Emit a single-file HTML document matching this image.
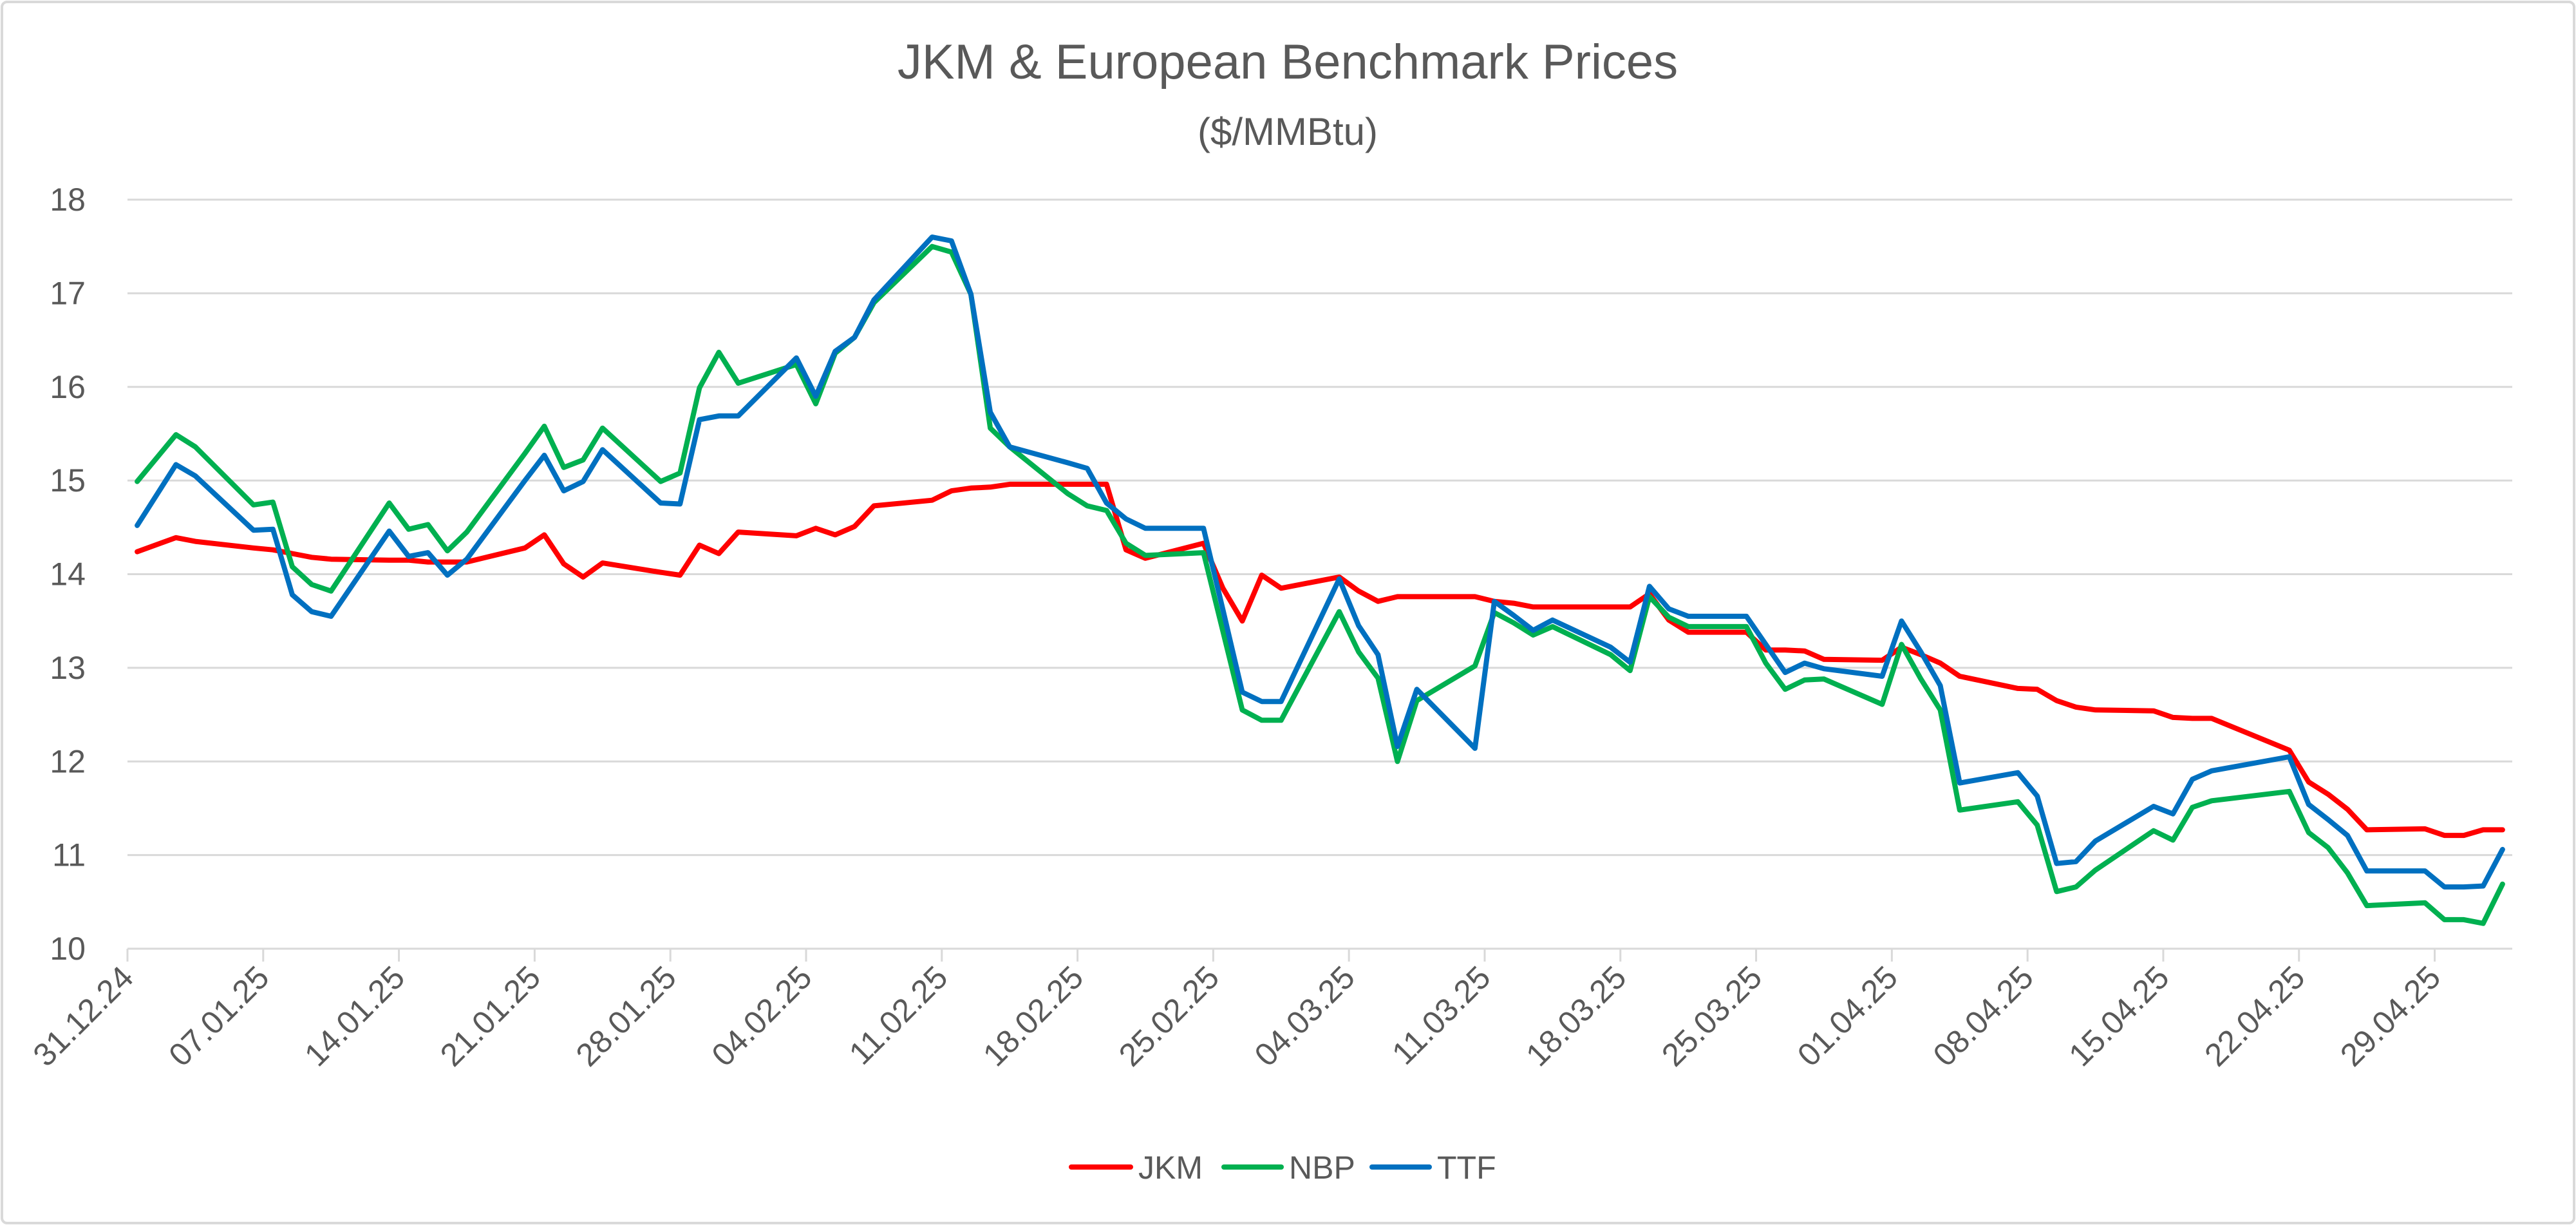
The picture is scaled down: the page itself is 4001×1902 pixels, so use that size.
<!DOCTYPE html>
<html><head><meta charset="utf-8">
<style>
html,body{margin:0;padding:0;background:#fff;}
svg{display:block;font-family:"Liberation Sans",sans-serif;}
</style></head>
<body>
<svg id="chart" width="4001" height="1902" viewBox="0 0 4001 1902" xmlns="http://www.w3.org/2000/svg">
<rect x="3" y="3" width="3995" height="1896" rx="8" fill="#fff" stroke="#d9d9d9" stroke-width="4"/>
<text x="2000" y="122" text-anchor="middle" font-size="76" fill="#595959">JKM &amp; European Benchmark Prices</text>
<text x="2000" y="225" text-anchor="middle" font-size="60" fill="#595959">($/MMBtu)</text>
<g id="grid"></g>
<g id="yticks"></g>
<g id="xticks"></g>
<g id="series"></g>
<g>
  <g><line x1="1664" y1="1812" x2="1756" y2="1812" stroke="#ff0000" stroke-width="8" stroke-linecap="round"/><text x="1768" y="1830" font-size="50" fill="#595959">JKM</text></g>
  <g><line x1="1901" y1="1812" x2="1990" y2="1812" stroke="#00b050" stroke-width="8" stroke-linecap="round"/><text x="2002" y="1830" font-size="50" fill="#595959">NBP</text></g>
  <g><line x1="2131" y1="1812" x2="2220" y2="1812" stroke="#0070c0" stroke-width="8" stroke-linecap="round"/><text x="2232" y="1830" font-size="50" fill="#595959">TTF</text></g>
</g>
</svg>
<script>
// day offsets from 31.12.24
const days = [0,2,3,6,7,8,9,10,13,14,15,16,17,20,21,22,23,24,27,28,29,30,31,34,35,36,37,38,41,42,43,44,45,48,49,50,51,52,55,56,57,58,59,62,63,64,65,66,69,70,71,72,73,76,77,78,79,80,83,84,85,86,87,90,91,92,93,94,97,98,99,100,101,104,105,106,107,111,112,113,114,115,118,119,120,121,122];
const jkm = [14.24,14.39,14.35,14.28,14.26,14.22,14.18,14.16,14.15,14.15,14.13,14.13,14.13,14.28,14.42,14.11,13.97,14.12,14.02,13.99,14.31,14.22,14.45,14.41,14.49,14.42,14.51,14.73,14.79,14.89,14.92,14.93,14.96,14.96,14.96,14.96,14.26,14.17,14.33,13.85,13.5,13.99,13.85,13.97,13.82,13.71,13.76,13.76,13.76,13.71,13.69,13.65,13.65,13.65,13.65,13.79,13.51,13.38,13.38,13.19,13.19,13.18,13.09,13.08,13.22,13.14,13.05,12.91,12.78,12.77,12.65,12.58,12.55,12.54,12.47,12.46,12.46,12.12,11.78,11.65,11.49,11.27,11.28,11.21,11.21,11.27,11.27];
const nbp = [14.99,15.49,15.36,14.74,14.77,14.08,13.89,13.82,14.76,14.48,14.53,14.25,14.45,15.29,15.58,15.14,15.22,15.56,14.99,15.08,15.99,16.37,16.04,16.24,15.82,16.36,16.53,16.9,17.5,17.44,16.99,15.56,15.36,14.86,14.73,14.68,14.33,14.2,14.23,13.39,12.55,12.44,12.44,13.6,13.17,12.89,12.0,12.65,13.02,13.59,13.48,13.35,13.44,13.14,12.97,13.76,13.54,13.44,13.44,13.05,12.77,12.87,12.88,12.61,13.25,12.88,12.55,11.48,11.57,11.32,10.61,10.66,10.84,11.26,11.16,11.51,11.58,11.68,11.24,11.08,10.81,10.46,10.49,10.31,10.31,10.27,10.69];
const ttf = [14.52,15.17,15.05,14.47,14.48,13.78,13.6,13.55,14.46,14.19,14.23,13.99,14.16,15.0,15.27,14.89,14.99,15.33,14.76,14.75,15.65,15.69,15.69,16.31,15.9,16.38,16.53,16.93,17.6,17.56,16.99,15.73,15.36,15.19,15.13,14.76,14.59,14.49,14.49,13.62,12.74,12.64,12.64,13.95,13.45,13.14,12.16,12.77,12.14,13.71,13.56,13.4,13.51,13.22,13.06,13.87,13.63,13.55,13.55,13.25,12.95,13.05,12.99,12.91,13.5,13.17,12.81,11.77,11.88,11.63,10.91,10.93,11.15,11.52,11.44,11.81,11.9,12.05,11.54,11.38,11.21,10.83,10.83,10.66,10.66,10.67,11.06];
const yTicks = [10,11,12,13,14,15,16,17,18];
const xTickDays = [0,7,14,21,28,35,42,49,56,63,70,77,84,91,98,105,112,119];
const xTickLabels = ["31.12.24","07.01.25","14.01.25","21.01.25","28.01.25","04.02.25","11.02.25","18.02.25","25.02.25","04.03.25","11.03.25","18.03.25","25.03.25","01.04.25","08.04.25","15.04.25","22.04.25","29.04.25"];

const NS = "http://www.w3.org/2000/svg";
const L = 198, R = 3902, T = 310, B = 1473;
const dayMax = 123, yMin = 10, yMax = 18;
function xDay(d){ return L + d*(R-L)/dayMax; }
function xPt(d){ return xDay(d+0.5); }
function yV(v){ return B - (v-yMin)*(B-T)/(yMax-yMin); }
function mk(tag, attrs, parent){ const e=document.createElementNS(NS,tag); for(const k in attrs) e.setAttribute(k,attrs[k]); parent.appendChild(e); return e; }

const grid=document.getElementById('grid'), yt=document.getElementById('yticks'), xt=document.getElementById('xticks'), ser=document.getElementById('series');
yTicks.forEach(v=>{
  const g=mk('line',{x1:L,x2:R,y1:yV(v),y2:yV(v),stroke:'#d9d9d9','stroke-width':3},grid);
  
  
  const t=mk('text',{x:133,y:yV(v)+17,'text-anchor':'end','font-size':50,fill:'#595959'},yt);
  t.textContent=v;
  
  
});
xTickDays.forEach((d,i)=>{
  const x=xDay(d);
  const tk=mk('line',{x1:x,x2:x,y1:B,y2:B+20,stroke:'#d9d9d9','stroke-width':3},xt);
  
  
  const t=mk('text',{x:x+12,y:B+48,'text-anchor':'end','font-size':50,fill:'#595959',transform:`rotate(-45 ${x+12} ${B+48})`},xt);
  t.textContent=xTickLabels[i];
  
  
});
function drawLine(vals,color,name){
  const pts=vals.map((v,i)=>xPt(days[i]).toFixed(1)+','+yV(v).toFixed(1)).join(' ');
  const p=mk('polyline',{points:pts,fill:'none',stroke:color,'stroke-width':8,'stroke-linejoin':'round','stroke-linecap':'round'},ser);
  
  
}
drawLine(jkm,'#ff0000','jkm-line');
drawLine(nbp,'#00b050','nbp-line');
drawLine(ttf,'#0070c0','ttf-line');
</script>
</body></html>
